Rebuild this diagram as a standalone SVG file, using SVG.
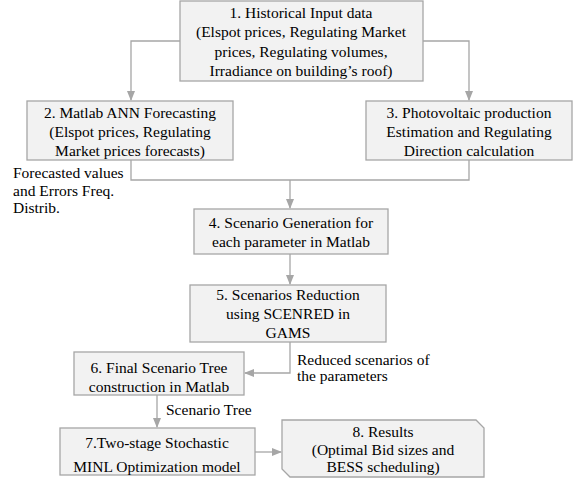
<svg xmlns="http://www.w3.org/2000/svg" width="579" height="483" viewBox="0 0 579 483" font-family="'Liberation Serif', 'DejaVu Serif', serif" font-size="15.5">
<style>
.box{fill:#f2f2f2;stroke:#a6a6a6;stroke-width:1.3}
.ln{fill:none;stroke:#a6a6a6;stroke-width:1.3}
.c{text-anchor:middle}
</style>
<defs>
<marker id="ah" markerWidth="10" markerHeight="8" refX="9" refY="4" orient="auto" markerUnits="userSpaceOnUse"><path d="M0,0 L10,4 L0,8 z" fill="#a6a6a6"/></marker>
</defs>
<rect width="579" height="483" fill="#fff"/>
<g id="connectors">
<path class="ln" d="M180,41 H131 V100" marker-end="url(#ah)"/>
<path class="ln" d="M423,41 H469 V100" marker-end="url(#ah)"/>
<path class="ln" d="M131,160 V180 H469 V160"/>
<path class="ln" d="M290,180 V208" marker-end="url(#ah)"/>
<path class="ln" d="M290,254 V284" marker-end="url(#ah)"/>
<path class="ln" d="M290,342 V373 H245" marker-end="url(#ah)"/>
<path class="ln" d="M157,395 V427" marker-end="url(#ah)"/>
<path class="ln" d="M255,452 H281" marker-end="url(#ah)"/>
<text x="13" y="178">Forecasted values</text>
<text x="13" y="196">and Errors Freq.</text>
<text x="13" y="213">Distrib.</text>
<text x="297" y="365">Reduced scenarios of</text>
<text x="297" y="381">the parameters</text>
<text x="166" y="415">Scenario Tree</text>
</g>
<g id="n1">
<rect class="box" x="180" y="1" width="243" height="80"/>
<text class="c" x="301" y="18">1. Historical Input data</text>
<text class="c" x="301" y="37">(Elspot prices, Regulating Market</text>
<text class="c" x="301" y="57">prices, Regulating volumes,</text>
<text class="c" x="301" y="76">Irradiance on building’s roof)</text>
</g>
<g id="n2">
<rect class="box" x="27" y="101" width="206" height="59"/>
<text class="c" x="130" y="118">2. Matlab ANN Forecasting</text>
<text class="c" x="130" y="137">(Elspot prices, Regulating</text>
<text class="c" x="130" y="156">Market prices forecasts)</text>
</g>
<g id="n3">
<rect class="box" x="366" y="101" width="206" height="59"/>
<text class="c" x="469" y="118">3. Photovoltaic production</text>
<text class="c" x="469" y="137">Estimation and Regulating</text>
<text class="c" x="469" y="156">Direction calculation</text>
</g>
<g id="n4">
<rect class="box" x="194" y="209" width="194" height="45"/>
<text class="c" x="291" y="228">4. Scenario Generation for</text>
<text class="c" x="291" y="247">each parameter in Matlab</text>
</g>
<g id="n5">
<rect class="box" x="190" y="285" width="196" height="57"/>
<text class="c" x="288" y="300">5. Scenarios Reduction</text>
<text class="c" x="288" y="319">using SCENRED in</text>
<text class="c" x="288" y="338">GAMS</text>
</g>
<g id="n6">
<rect class="box" x="74" y="352" width="170" height="43"/>
<text class="c" x="159" y="373">6. Final Scenario Tree</text>
<text class="c" x="159" y="392">construction in Matlab</text>
</g>
<g id="n7">
<rect class="box" x="60" y="428" width="195" height="47"/>
<text class="c" x="157" y="448">7.Two-stage Stochastic</text>
<text class="c" x="157" y="472">MINL Optimization model</text>
</g>
<g id="n8">
<path class="box" d="M282,420 H476 L484,428 V477 H290 L282,469 Z"/>
<text class="c" x="383" y="437">8. Results</text>
<text class="c" x="383" y="455">(Optimal Bid sizes and</text>
<text class="c" x="383" y="472">BESS scheduling)</text>
</g>
</svg>
